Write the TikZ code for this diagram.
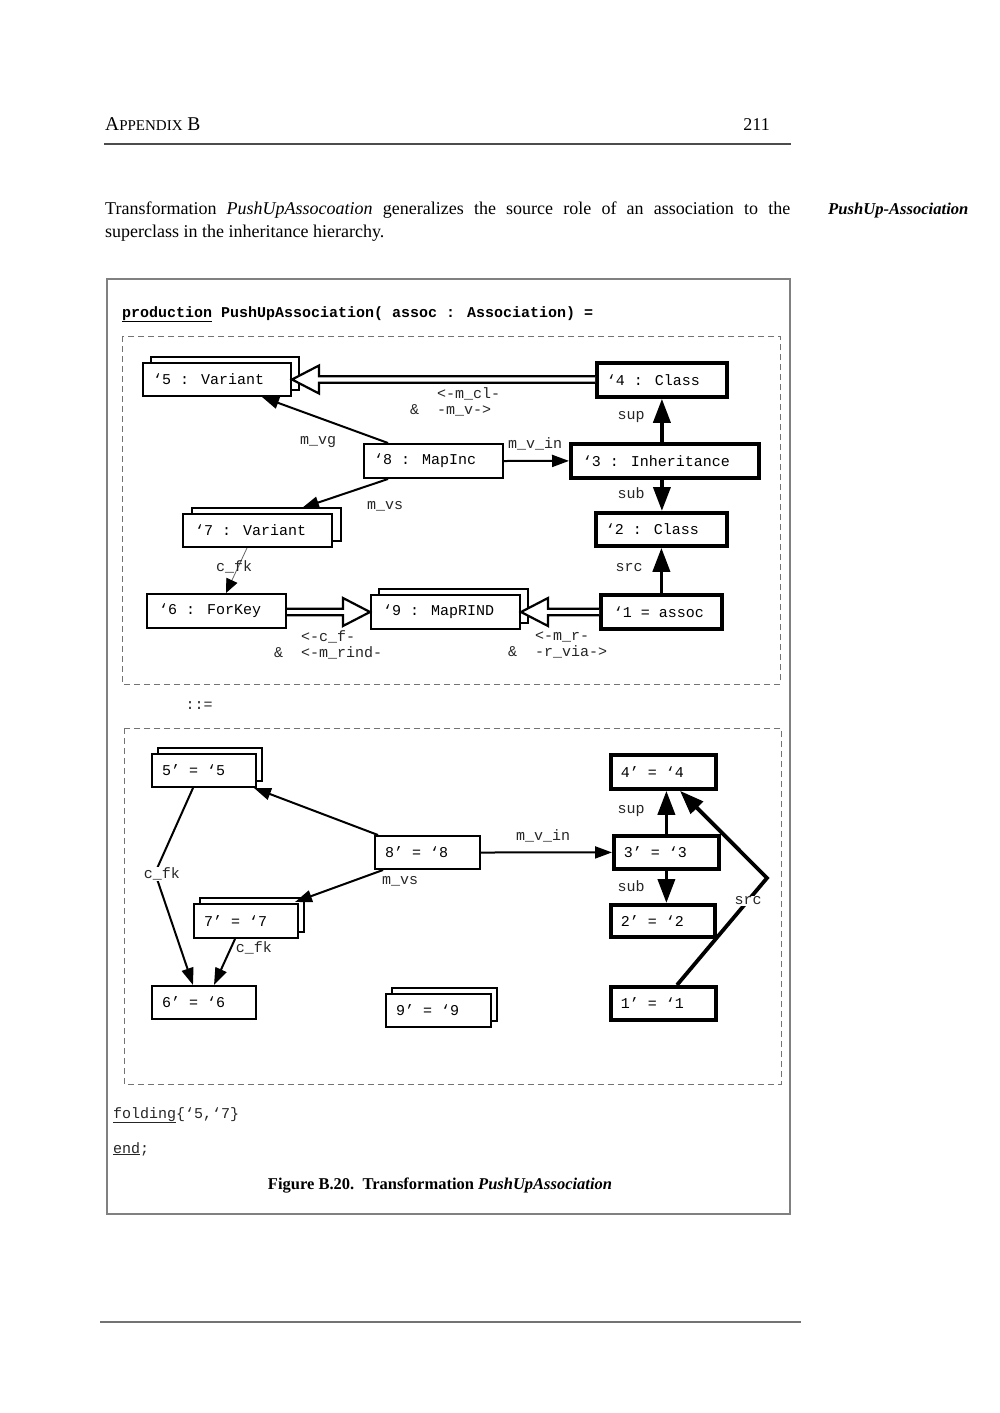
\documentclass[tikz,border=0pt]{standalone}
\usepackage{fontspec}
\setmainfont{Liberation Serif}
\newfontfamily\cw{Liberation Mono}
\usetikzlibrary{arrows.meta,calc,shadows}
\tikzset{
  obj/.style={draw, fill=white, anchor=north west, inner ysep=0pt, inner xsep=10pt,
    font=\cw\fontsize{15}{15}\selectfont, line width=2pt},
  objt/.style={obj, line width=3.8pt},
  stack/.style={copy shadow={shadow xshift=#1, shadow yshift=6pt}},
  lbl/.style={font=\cw\fontsize{15}{16}\selectfont, inner sep=1pt, text=black!85},
  arr/.style={line width=2pt, -{Triangle[length=17pt,width=12pt]}},
  tarr/.style={line width=3.8pt, -{Triangle[length=24pt,width=17pt]}},
  thinarr/.style={line width=0.8pt, draw=black!60, -{Triangle[length=14pt,width=12pt,color=black]}},
  hollow/.style={line width=2.2pt, fill=white, line join=miter},
  dbox/.style={draw=black!55, dash pattern=on 6pt off 4pt, line width=1pt},
  frame/.style={draw=black!50, line width=2pt},
  rule/.style={draw=black!70, line width=1.1pt},
}
\newcommand\tb[2]{\makebox[#1][l]{#2}}
\newcommand\hollowarrow[3]{%
  \draw[hollow] ($(#2 |- #1)+(0,-3.3)$) -- ($(#1)+(#3*27,-3.3)$) -- ($(#1)+(#3*27,-14)$)
    -- (#1) -- ($(#1)+(#3*27,14)$) -- ($(#1)+(#3*27,3.3)$) -- ($(#2 |- #1)+(0,3.3)$);}
\begin{document}
\begin{tikzpicture}[x=1pt,y=-1pt]
\useasboundingbox[fill=white] (0,0) rectangle (1000,1413);

% page header
\node[anchor=base west, inner sep=0] (hdr) at (105,130)
  {{\fontsize{19.5}{20}\selectfont A}{\fontsize{15}{16}\selectfont PPENDIX}{\fontsize{19.5}{20}\selectfont\ B}};
\node[anchor=base east, inner sep=0, font=\fontsize{18}{20}\selectfont] (pg) at (770,130) {211};
\draw[rule] (104,144) -- (791,144);

% paragraph
\node[anchor=base west, inner sep=0, font=\fontsize{18}{23}\selectfont] (p1) at (105,214)
  {\makebox[685pt][s]{Transformation \textit{PushUpAssocoation} generalizes the source role of an association to the}};
\node[anchor=base west, inner sep=0, font=\fontsize{18}{23}\selectfont] (p2) at (105,237)
  {superclass in the inheritance hierarchy.};
\node[anchor=base west, inner sep=0, font=\fontsize{16.6}{20}\selectfont\bfseries\itshape] (mn) at (828,214)
  {PushUp-Association};

% figure frame
\draw[frame] (107,279) rectangle (790,1214);
\node[anchor=base west, inner sep=0, font=\cw\bfseries\fontsize{15}{15}\selectfont] (head) at (122,317)
  {\underline{production} PushUpAssociation( assoc : Association) =};
\draw[dbox] (122,336) rectangle (780,684);
\draw[dbox] (124,728) rectangle (781,1084);
\node[lbl] (def) at (199,706) {::=};

% ---------- left-hand side ----------
\node[obj, stack=8pt, minimum height=33pt] (n5) at (142,362) {\tb{128pt}{‘5 : Variant}};
\node[objt, minimum height=34pt] (n4) at (595,361) {\tb{110pt}{‘4 : Class}};
\node[objt, minimum height=34pt] (n3) at (569,442) {\tb{168pt}{\hspace{2pt}‘3 : Inheritance}};
\node[objt, minimum height=33pt] (n2) at (594,511) {\tb{111pt}{‘2 : Class}};
\node[objt, minimum height=34pt] (n1) at (599,593) {\tb{101pt}{\hspace{3pt}‘1 = assoc}};
\node[obj, minimum height=34pt] (n8) at (363,443) {\tb{119pt}{‘8 : MapInc}};
\node[obj, stack=9pt, minimum height=33pt] (n7) at (182,513) {\tb{129pt}{\hspace{2pt}‘7 : Variant}};
\node[obj, minimum height=34pt] (n6) at (146,593) {\tb{119pt}{\hspace{2pt}‘6 : ForKey}};
\node[obj, stack=8pt, minimum height=34pt] (n9) at (370,594) {\tb{129pt}{\hspace{2pt}‘9 : MapRIND}};

\hollowarrow{n5.east}{n4.west}{1}
\hollowarrow{n9.west}{n6.east}{-1}
\hollowarrow{n9.east}{n1.west}{1}

\draw[arr] ($(n8.north west)+(25,0)$) -- ($(n5.south west)+(120,0)$);
\draw[arr] ($(n8.south west)+(25,0)$) -- ($(n7.north west)+(120,-5)$);
\draw[arr] (n8.east) -- (n3.west);
\draw[tarr] (n3.north -| n4.south) -- (n4.south);
\draw[tarr] (n3.south -| n4.south) -- (n2.north -| n4.south);
\draw[tarr] (n1.north) -- (n2.south -| n1.north);
\draw[thinarr] ($(n7.south west)+(65,0)$) -- ($(n6.north west)+(80,0)$);

\node[lbl] (l1) at (318,442) {m\_vg};
\node[lbl] (l2) at (385,506) {m\_vs};
\node[lbl] (l3) at (535,444) {m\_v\_in};
\node[lbl] (l4) at (631,417) {sup};
\node[lbl] (l5) at (631,493) {sub};
\node[lbl] (l6) at (629,568) {src};
\node[lbl] (l7) at (234,567) {c\_fk};
\node[lbl, anchor=west, align=left, inner sep=0] (l8) at (410,401.5) {\ \ \ <-m\_cl-\\\&\ \ -m\_v->};
\node[lbl, anchor=west, align=left, inner sep=0] (l9) at (274,645) {\ \ \ <-c\_f-\\\&\ \ <-m\_rind-};
\node[lbl, anchor=west, align=left, inner sep=0] (l10) at (508,645) {\ \ \ <-m\_r-\\\&\ \ -r\_via->};

% ---------- right-hand side ----------
\node[obj, stack=6pt, minimum height=33pt] (b5) at (151,753) {\tb{84pt}{5’ = ‘5}};
\node[obj, minimum height=33pt] (b8) at (374,835) {\tb{85pt}{8’ = ‘8}};
\node[obj, stack=6pt, minimum height=34pt] (b7) at (193,903) {\tb{84pt}{7’ = ‘7}};
\node[obj, minimum height=33pt] (b6) at (151,985) {\tb{84pt}{6’ = ‘6}};
\node[obj, stack=6pt, minimum height=33pt] (b9) at (385,993) {\tb{85pt}{9’ = ‘9}};
\node[objt, minimum height=34pt] (b4) at (609,753) {\tb{85pt}{4’ = ‘4}};
\node[objt, minimum height=33pt] (b3) at (612,834) {\tb{85pt}{3’ = ‘3}};
\node[objt, minimum height=32pt] (b2) at (609,903) {\tb{84pt}{2’ = ‘2}};
\node[objt, minimum height=33pt] (b1) at (609,985) {\tb{85pt}{1’ = ‘1}};

\coordinate (k1) at (155,873);
\coordinate (k2) at (767,878);
\draw[arr] ($(b8.north west)+(4,0)$) -- ($(b5.south east)+(-3,0)$);
\draw[arr] ($(b8.south west)+(9,0)$) -- ($(b7.north east)+(-4,-1)$);
\draw[arr] ($(b5.south west)+(42,0)$) -- (k1) -- ($(b6.north west)+(42,0)$);
\draw[arr] ($(b7.south west)+(42,0)$) -- ($(b6.north west)+(63,0)$);
\draw[arr] (b8.east) -- (b3.west);
\draw[tarr] (b3.north) -- (b4.south -| b3.north);
\draw[tarr] (b3.south) -- (b2.north -| b3.south);
\draw[tarr] ($(b1.north west)+(68,0)$) -- (k2) -- ($(b4.south west)+(71,0)$);

\node[lbl] (m1) at (400,881) {m\_vs};
\node[lbl] (m2) at (543,836) {m\_v\_in};
\node[lbl] (m3) at (631,811) {sup};
\node[lbl] (m4) at (631,886) {sub};
\node[lbl, fill=white] (m5) at (162,874) {c\_fk};
\node[lbl] (m6) at (254,948) {c\_fk};
\node[lbl, fill=white] (m7) at (748,901) {src};

% footer of the figure
\node[lbl, anchor=base west, inner sep=0] (fold) at (113,1118) {\underline{folding}\{‘5,‘7\}};
\node[lbl, anchor=base west, inner sep=0] (endk) at (113,1153) {\underline{end};};
\node[anchor=base, inner sep=0, font=\fontsize{16.5}{20}\selectfont\bfseries] (cap) at (440,1189)
  {Figure B.20.\ \ Transformation \textit{PushUpAssociation}};

\draw[rule, draw=black!55] (100,1322) -- (801,1322);
\end{tikzpicture}
\end{document}
